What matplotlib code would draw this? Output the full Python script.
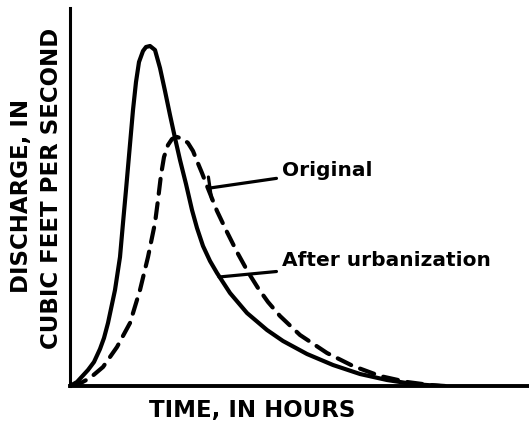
import matplotlib
matplotlib.use("Agg")
import matplotlib.pyplot as plt
from matplotlib.patches import ArrowStyle

# Time (arbitrary hours) and discharge (arbitrary cfs)
after_t = [0.0, 0.7, 1.8, 2.4, 3.0, 3.4, 3.8, 4.5, 5.0, 5.3, 5.6, 5.95, 6.3, 6.6, 6.9, 7.3,
           7.6, 8.0, 8.5, 9.0, 9.5, 10.0, 10.5, 11.0, 11.6, 12.2, 12.7, 13.3, 14.0, 14.7,
           16.0, 17.7, 19.7, 21.3, 23.7, 26.3, 29.0, 31.7, 34.3, 37.0]
after_q = [0.0, 0.4, 1.6, 2.4, 3.7, 4.8, 6.3, 9.6, 12.9, 16.3, 19.6, 23.6, 27.6, 30.4, 32.4, 33.5,
           33.9, 34.0, 33.6, 31.8, 29.5, 27.1, 24.8, 22.6, 20.2, 17.6, 15.8, 14.0, 12.5, 11.3,
           9.3, 7.3, 5.6, 4.5, 3.2, 2.1, 1.2, 0.6, 0.2, 0.0]

orig_t = [0.2, 0.7, 2.0, 3.3, 4.7, 6.0, 7.0, 7.8, 8.5, 8.8, 9.1, 9.4, 9.8, 10.2, 10.7,
          11.3, 11.8, 12.3, 12.7, 13.2, 13.7, 14.7, 15.7, 16.7, 17.8, 18.8, 19.8, 21.0,
          23.0, 25.7, 28.3, 31.0, 33.7, 36.0, 37.5]
orig_q = [0.0, 0.1, 0.8, 1.9, 3.9, 6.3, 9.6, 12.9, 16.3, 18.6, 21.1, 22.9, 24.1, 24.7, 24.9,
          24.7, 24.3, 23.5, 22.5, 21.3, 20.0, 17.5, 15.4, 13.4, 11.4, 9.8, 8.4, 7.0,
          5.1, 3.3, 2.0, 1.0, 0.4, 0.1, 0.0]

W, H = 529, 430
fig = plt.figure(figsize=(W / 100, H / 100), dpi=100)
ax = fig.add_axes([70 / W, (H - 386) / H, 1 - 70 / W, (386 - 8) / H])

ax.plot(after_t, after_q, color="black", lw=3.0, solid_capstyle="round",
        solid_joinstyle="round")
ln, = ax.plot(orig_t, orig_q, color="black", lw=3.0, dash_capstyle="round",
              dash_joinstyle="round")
ln.set_dashes((3.6, 2.3))

ax.set_xlim(0, 45.9)
ax.set_ylim(0, 37.8)
ax.set_xticks([])
ax.set_yticks([])
for s in ("top", "right"):
    ax.spines[s].set_visible(False)
ax.spines["left"].set_linewidth(2.2)
ax.spines["bottom"].set_linewidth(2.8)

lab = dict(fontsize=14.5, fontweight="bold", family="DejaVu Sans",
           ha="left", va="center")
ax.annotate("Original", xy=(14.0, 19.8), xytext=(21.2, 21.5),
            arrowprops=dict(arrowstyle=ArrowStyle("-[", widthB=0.8, lengthB=0.0),
                            mutation_scale=10, color="black", lw=2.3,
                            shrinkA=2, shrinkB=0), **lab)
ax.annotate("After urbanization", xy=(14.9, 10.9), xytext=(21.2, 12.5),
            arrowprops=dict(arrowstyle="-", color="black", lw=2.3,
                            shrinkA=2, shrinkB=0), **lab)

big = dict(fontsize=16.5, fontweight="bold", family="DejaVu Sans",
           ha="center", va="center")
fig.text(22 / W, 1 - 196 / H, "DISCHARGE, IN", rotation=90, **big)
fig.text(52 / W, 1 - 188 / H, "CUBIC FEET PER SECOND", rotation=90, **big)
fig.text(252 / W, 1 - 410 / H, "TIME, IN HOURS", **big)

fig.savefig("out.png", dpi=100)
